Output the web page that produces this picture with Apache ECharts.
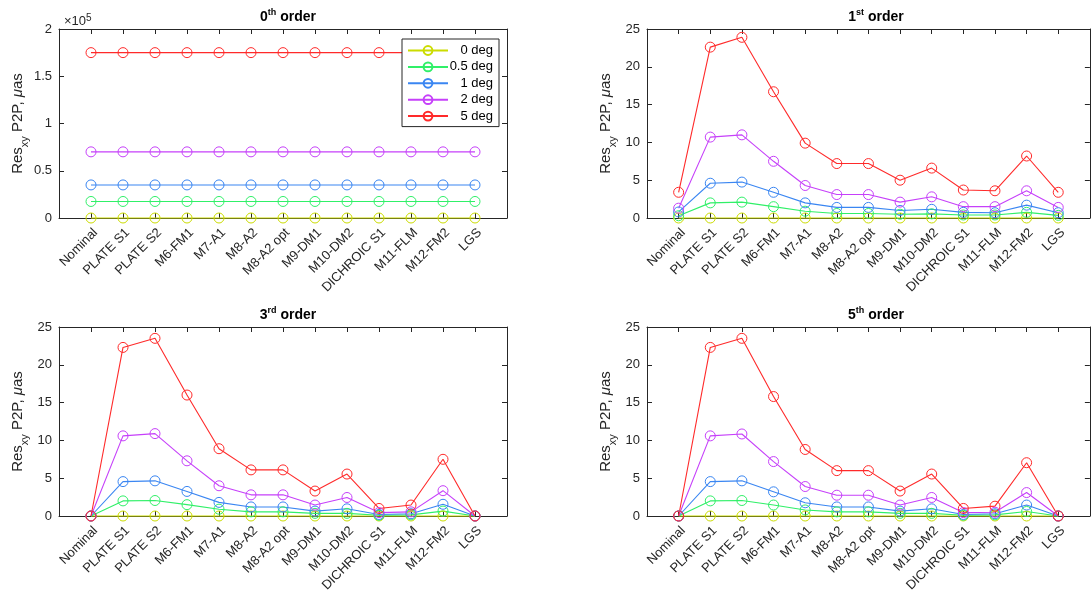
<!DOCTYPE html>
<html>
<head>
<meta charset="utf-8">
<script src="https://cdn.jsdelivr.net/npm/echarts@6/dist/echarts.min.js"></script>
<style>
  html, body { margin: 0; padding: 0; background: #fff; }
  #main { width: 1092px; height: 596px; }
</style>
</head>
<body>
<div id="main"></div>
<script>
// x axis categories
const categories = ['Nominal', 'PLATE S1', 'PLATE S2', 'M6-FM1', 'M7-A1', 'M8-A2', 'M8-A2 opt',
  'M9-DM1', 'M10-DM2', 'DICHROIC S1', 'M11-FLM', 'M12-FM2', 'LGS']
const degNames = ['0 deg', '0.5 deg', '1 deg', '2 deg', '5 deg']
const degColors = ['#cbdc00', '#30f068', '#3a86f2', '#c640fa', '#ff2a2a']

// rows follow degNames: 0, 0.5, 1, 2, 5 deg
const order0 = [
  [0, 0, 0, 0, 0, 0, 0, 0, 0, 0, 0, 0, 0],
  [17500, 17500, 17500, 17500, 17500, 17500, 17500, 17500, 17500, 17500, 17500, 17500, 17500],
  [35000, 35000, 35000, 35000, 35000, 35000, 35000, 35000, 35000, 35000, 35000, 35000, 35000],
  [70000, 70000, 70000, 70000, 70000, 70000, 70000, 70000, 70000, 70000, 70000, 70000, 70000],
  [175000, 175000, 175000, 175000, 175000, 175000, 175000, 175000, 175000, 175000, 175000, 175000, 175000]
]
const order1 = [
  [0, 0, 0, 0, 0, 0, 0, 0, 0, 0, 0, 0, 0],
  [0.3, 2.0, 2.1, 1.5, 0.9, 0.6, 0.6, 0.5, 0.55, 0.4, 0.4, 0.75, 0.35],
  [0.8, 4.6, 4.75, 3.4, 2.0, 1.4, 1.4, 1.0, 1.15, 0.75, 0.7, 1.7, 0.7],
  [1.3, 10.7, 11.0, 7.5, 4.3, 3.1, 3.1, 2.1, 2.8, 1.5, 1.5, 3.6, 1.4],
  [3.4, 22.6, 23.9, 16.7, 9.9, 7.2, 7.2, 5.0, 6.6, 3.7, 3.6, 8.2, 3.4]
]
const order3 = [
  [0, 0, 0, 0, 0, 0, 0, 0, 0, 0, 0, 0, 0],
  [0, 2.0, 2.05, 1.5, 0.9, 0.55, 0.55, 0.35, 0.35, 0.1, 0.15, 0.65, 0],
  [0, 4.55, 4.65, 3.25, 1.8, 1.2, 1.2, 0.65, 0.95, 0.2, 0.3, 1.55, 0],
  [0, 10.6, 10.9, 7.3, 4.0, 2.8, 2.8, 1.45, 2.45, 0.45, 0.55, 3.35, 0],
  [0, 22.3, 23.5, 16.0, 8.9, 6.1, 6.1, 3.3, 5.55, 1.0, 1.45, 7.5, 0]
]
const order5 = [
  [0, 0, 0, 0, 0, 0, 0, 0, 0, 0, 0, 0, 0],
  [0, 2.0, 2.05, 1.45, 0.8, 0.55, 0.55, 0.35, 0.35, 0.1, 0.15, 0.6, 0],
  [0, 4.55, 4.65, 3.2, 1.75, 1.2, 1.2, 0.65, 0.95, 0.2, 0.3, 1.45, 0],
  [0, 10.6, 10.85, 7.2, 3.9, 2.75, 2.75, 1.45, 2.45, 0.45, 0.5, 3.1, 0],
  [0, 22.3, 23.5, 15.8, 8.8, 6.0, 6.0, 3.3, 5.55, 1.0, 1.3, 7.05, 0]
]

const panels = [
  { data: order0, sup: 'th', num: '0', left: 59, top: 29, yMax: 200000, yStep: 50000, scale: 1e5 },
  { data: order1, sup: 'st', num: '1', left: 647, top: 29, yMax: 25, yStep: 5, scale: 1 },
  { data: order3, sup: 'rd', num: '3', left: 59, top: 327, yMax: 25, yStep: 5, scale: 1 },
  { data: order5, sup: 'th', num: '5', left: 647, top: 327, yMax: 25, yStep: 5, scale: 1 }
]

const font = 'Liberation Sans, Arial, sans-serif'
const axisColor = '#262626'
const gridW = 448
const gridH = 189

let grids = [], xAxes = [], yAxes = [], series = [], titles = []

panels.forEach((p, i) => {
  grids.push({ left: p.left, top: p.top, width: gridW, height: gridH })

  titles.push({
    text: p.num + '{s|' + p.sup + '} order',
    left: p.left + gridW / 2,
    top: p.top - 26,
    textAlign: 'center',
    textStyle: {
      fontFamily: font, fontSize: 14, fontWeight: 'bold', color: '#000', lineHeight: 18,
      rich: { s: { fontFamily: font, fontSize: 9, fontWeight: 'bold', color: '#000', verticalAlign: 'top', lineHeight: 18 } }
    }
  })

  // bottom x axis with labels
  xAxes.push({
    type: 'value', gridIndex: i, min: 0, max: 14, interval: 1, position: 'bottom',
    axisLine: { onZero: false, lineStyle: { color: axisColor, width: 1 } },
    axisTick: { inside: true, length: 5, lineStyle: { color: axisColor } },
    splitLine: { show: false },
    axisLabel: {
      rotate: 45, margin: 8, verticalAlign: 'top', fontFamily: font, fontSize: 13, color: axisColor,
      formatter: v => categories[v - 1] || ''
    }
  })
  // top x axis, box edge only
  xAxes.push({
    type: 'value', gridIndex: i, min: 0, max: 14, interval: 1, position: 'top',
    axisLine: { onZero: false, lineStyle: { color: axisColor, width: 1 } },
    axisTick: { inside: true, length: 5, lineStyle: { color: axisColor } },
    splitLine: { show: false },
    axisLabel: { show: false }
  })

  yAxes.push({
    type: 'value', gridIndex: i, min: 0, max: p.yMax, interval: p.yStep, position: 'left',
    name: '{a|Res}{b|xy}{a| P2P, }{c|μ}{a|as}',
    nameLocation: 'middle', nameGap: 29,
    nameTextStyle: {
      rich: {
        a: { fontFamily: font, fontSize: 15, color: axisColor, lineHeight: 24, verticalAlign: 'middle' },
        b: { fontFamily: font, fontSize: 11, color: axisColor, lineHeight: 24, verticalAlign: 'bottom' },
        c: { fontFamily: font, fontSize: 15, fontStyle: 'italic', color: axisColor, lineHeight: 24, verticalAlign: 'middle' }
      }
    },
    axisLine: { show: true, onZero: false, lineStyle: { color: axisColor, width: 1 } },
    axisTick: { show: true, inside: true, length: 5, lineStyle: { color: axisColor } },
    splitLine: { show: false },
    axisLabel: {
      margin: 7, fontFamily: font, fontSize: 13, color: axisColor,
      formatter: v => String(+(v / p.scale).toFixed(2))
    }
  })
  yAxes.push({
    type: 'value', gridIndex: i, min: 0, max: p.yMax, interval: p.yStep, position: 'right',
    axisLine: { show: true, onZero: false, lineStyle: { color: axisColor, width: 1 } },
    axisTick: { show: true, inside: true, length: 5, lineStyle: { color: axisColor } },
    splitLine: { show: false },
    axisLabel: { show: false }
  })

  p.data.forEach((row, d) => {
    series.push({
      type: 'line',
      name: degNames[d],
      xAxisIndex: i * 2,
      yAxisIndex: i * 2,
      data: row.map((v, k) => [k + 1, v]),
      symbol: 'circle',
      symbolSize: 10,
      clip: false,
      animation: false,
      color: degColors[d],
      lineStyle: { color: degColors[d], width: 1.1 },
      itemStyle: { color: 'rgba(255,255,255,0)', borderColor: degColors[d], borderWidth: 1 },
      emphasis: { disabled: true }
    })
  })
})

// x10^5 exponent label on first panel
titles.push({
  text: '×10{s|5}',
  left: 59, top: 8,
  textStyle: {
    fontFamily: font, fontSize: 13, fontWeight: 'normal', color: axisColor, lineHeight: 17,
    rich: { s: { fontFamily: font, fontSize: 10, color: axisColor, verticalAlign: 'top', lineHeight: 17 } }
  }
})

let chart = echarts.init(document.getElementById('main'))
let option = {
  backgroundColor: '#fff',
  animation: false,
  title: titles,
  grid: grids,
  xAxis: xAxes,
  yAxis: yAxes,
  legend: {
    data: degNames,
    orient: 'vertical',
    left: 402, top: 39,
    itemWidth: 40, itemHeight: 11, itemGap: 3.4,
    padding: [5, 6, 4, 5],
    backgroundColor: '#fff',
    borderColor: axisColor, borderWidth: 1,
    selectedMode: false,
    formatter: name => '{r|' + name + '}',
    textStyle: {
      fontFamily: font, fontSize: 13, color: '#000',
      rich: { r: { fontFamily: font, fontSize: 13, color: '#000', width: 40, align: 'right', lineHeight: 14 } }
    }
  },
  series: series
}
chart.setOption(option)
</script>
</body>
</html>
